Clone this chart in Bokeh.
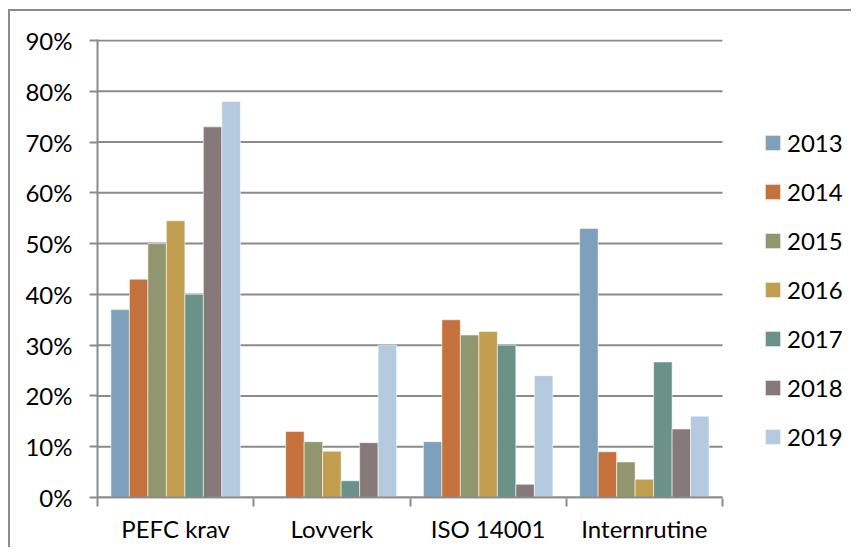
from bokeh.plotting import figure
from bokeh.models import (Range1d, FixedTicker, NumeralTickFormatter, Legend,
                          LegendItem, ColumnDataSource)
from bokeh.embed import file_html
from bokeh.resources import INLINE

categories = ["PEFC krav", "Lovverk", "ISO 14001", "Internrutine"]
years = ["2013", "2014", "2015", "2016", "2017", "2018", "2019"]
v2013 = [0.370, 0.000, 0.110, 0.530]
v2014 = [0.430, 0.130, 0.350, 0.090]
v2015 = [0.500, 0.110, 0.320, 0.070]
v2016 = [0.545, 0.091, 0.327, 0.036]
v2017 = [0.400, 0.033, 0.300, 0.267]
v2018 = [0.730, 0.108, 0.026, 0.135]
v2019 = [0.780, 0.300, 0.240, 0.160]
series = [v2013, v2014, v2015, v2016, v2017, v2018, v2019]
y_ticks = [0.0, 0.1, 0.2, 0.3, 0.4, 0.5, 0.6, 0.7, 0.8, 0.9]
colors = ["#7FA0BC", "#C4713E", "#92966E", "#C19E50", "#6A9289", "#857A79", "#B4CADE"]

FONT = "Lato"
FS = "24px"
GRAY = "#8a8a8a"

W, H = 851, 547
BL, BT, BB = 97, 39, 49
plot_w = 625                      # width of the category area in px
frame_w = W - BL
ncat = len(categories)

p = figure(width=W, height=H, x_range=Range1d(0, ncat * frame_w / plot_w),
           y_range=Range1d(-0.002, 0.902), output_backend="svg", toolbar_location=None,
           min_border_left=BL, min_border_right=0, min_border_top=BT,
           min_border_bottom=BB)
p.outline_line_color = None
p.background_fill_color = "white"
p.border_fill_alpha = 0
# outer chart-area frame (top and left edges visible, as in the reference crop)
p.styles = {
    "background": ("linear-gradient(#8a8a8a, #8a8a8a) 8px 9px / 100% 2px no-repeat, "
                   "linear-gradient(#8a8a8a, #8a8a8a) 8px 9px / 2px 100% no-repeat, white"),
}

# horizontal grid lines limited to the category area
p.segment(x0=[0] * len(y_ticks), x1=[ncat] * len(y_ticks), y0=y_ticks, y1=y_ticks,
          line_color=GRAY, line_width=2)

n = len(years)
group = 0.8286
bw = group / n
centers = [i + 0.5 for i in range(ncat)]

renderers = []
for j, (yr, vals) in enumerate(zip(years, series)):
    xs = [c - group / 2 + bw * (j + 0.5) for c in centers]
    src = ColumnDataSource(dict(left=[x - bw / 2 for x in xs], right=[x + bw / 2 for x in xs],
                                top=vals, cat=categories))
    r = p.quad(left="left", right="right", top="top", bottom=0, source=src,
               fill_color=colors[j], line_color="white", line_alpha=0.55,
               line_width=1)
    renderers.append(r)

# baseline of the category area
p.segment(x0=[0], x1=[ncat], y0=[0], y1=[0], line_color=GRAY, line_width=2)

# y axis
p.yaxis.ticker = FixedTicker(ticks=y_ticks, minor_ticks=[])
p.yaxis.formatter = NumeralTickFormatter(format="0%")
p.yaxis.axis_line_color = GRAY
p.yaxis.axis_line_width = 2
p.yaxis.major_tick_line_color = GRAY
p.yaxis.major_tick_line_width = 2
p.yaxis.major_tick_out = 8
p.yaxis.major_tick_in = 0
p.yaxis.minor_tick_line_color = None
p.yaxis.major_label_standoff = 17
p.yaxis.major_label_text_font = FONT
p.yaxis.major_label_text_font_size = FS
p.yaxis.major_label_text_color = "#000000"

# x axis
p.xaxis.ticker = FixedTicker(ticks=centers, minor_ticks=list(range(ncat + 1)))
p.xaxis.major_label_overrides = {c: cat for c, cat in zip(centers, categories)}
p.xaxis.axis_line_color = None
p.xaxis.major_tick_line_color = None
p.xaxis.major_tick_out = 0
p.xaxis.major_tick_in = 0
p.xaxis.minor_tick_line_color = GRAY
p.xaxis.minor_tick_line_width = 2
p.xaxis.minor_tick_out = 8
p.xaxis.minor_tick_in = 0
p.xaxis.major_label_standoff = 7
p.xaxis.major_label_text_font = FONT
p.xaxis.major_label_text_font_size = FS
p.xaxis.major_label_text_color = "#000000"

p.xgrid.grid_line_color = None
p.ygrid.grid_line_color = None

legend = Legend(items=[LegendItem(label=yr, renderers=[r]) for yr, r in zip(years, renderers)],
                location=(666, 47), orientation="vertical",
                glyph_width=19, glyph_height=19, label_height=22, spacing=20,
                label_standoff=5, padding=0, margin=0,
                border_line_color=None, background_fill_alpha=0,
                label_text_font=FONT, label_text_font_size=FS,
                label_text_color="#000000")
p.add_layout(legend)

open("out.html", "w").write(file_html(p, INLINE))
